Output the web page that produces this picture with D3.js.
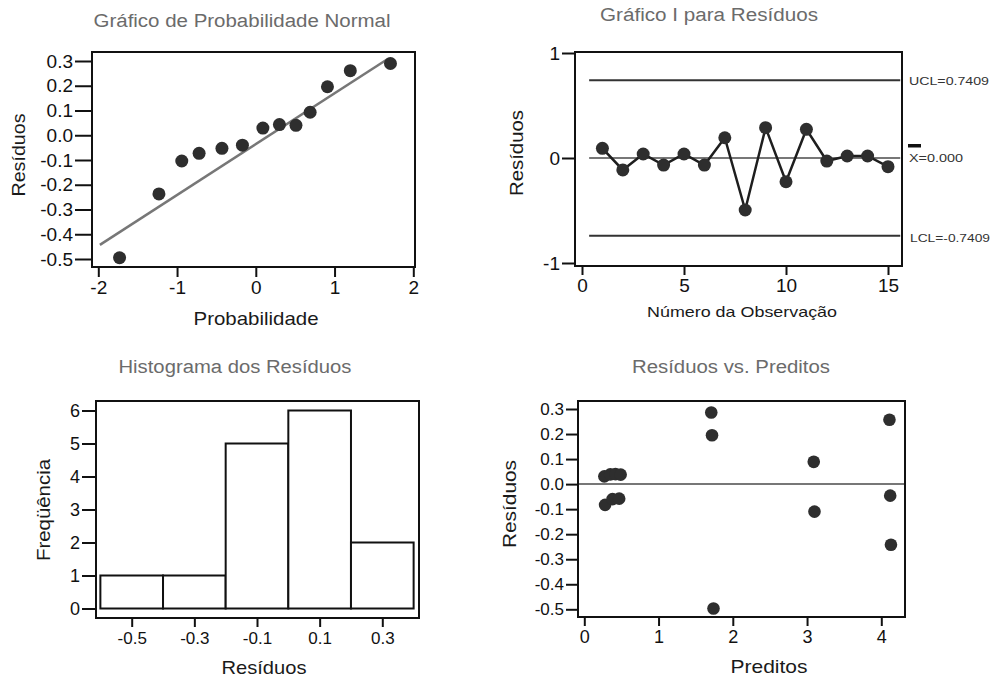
<!DOCTYPE html>
<html>
<head>
<meta charset="utf-8">
<script src="https://cdn.jsdelivr.net/npm/d3@7"></script>
<style>
  html, body { margin: 0; padding: 0; background: #fff; }
  svg { display: block; }
</style>
</head>
<body>
<script>
// ---------- DATA ----------
// Panel 1: Normal probability plot
const probScore = [-1.73, -1.23, -0.94, -0.72, -0.43, -0.17, 0.09, 0.30, 0.51, 0.69, 0.91, 1.20, 1.71];
const probResid = [-0.495, -0.237, -0.104, -0.073, -0.053, -0.040, 0.029, 0.043, 0.040, 0.093, 0.196, 0.261, 0.290];
const fitLineX = [-1.98, 1.67];
const fitLineY = [-0.443, 0.307];
const probXTicks = [-2, -1, 0, 1, 2];
const probYTicks = [-0.5, -0.4, -0.3, -0.2, -0.1, 0.0, 0.1, 0.2, 0.3];

// Panel 2: I chart
const obsNumber = [1, 2, 3, 4, 5, 6, 7, 8, 9, 10, 11, 12, 13, 14, 15];
const obsResid = [0.092, -0.114, 0.038, -0.067, 0.038, -0.067, 0.193, -0.495, 0.289, -0.226, 0.273, -0.029, 0.019, 0.019, -0.083];
const ucl = 0.7409, centerLine = 0.0, lcl = -0.7409;
const limitSpan = [0.35, 15.6];
const iXTicks = [0, 5, 10, 15];
const iYTicks = [-1, 0, 1];
const limitLabels = ["UCL=0.7409", "X=0.000", "LCL=-0.7409"];

// Panel 3: Histogram
const binEdges = [-0.6, -0.4, -0.2, 0.0, 0.2, 0.4];
const binFreq = [1, 1, 5, 6, 2];
const histXTicks = [-0.5, -0.3, -0.1, 0.1, 0.3];
const histYTicks = [0, 1, 2, 3, 4, 5, 6];

// Panel 4: Residuals vs fitted
const fitted = [0.27, 0.35, 0.42, 0.49, 0.28, 0.38, 0.47, 1.71, 1.72, 1.74, 3.09, 3.10, 4.11, 4.12, 4.13];
const fitResid = [0.031, 0.039, 0.040, 0.038, -0.083, -0.060, -0.058, 0.286, 0.195, -0.497, 0.089, -0.110, 0.257, -0.046, -0.242];
const rvfXTicks = [0, 1, 2, 3, 4];
const rvfYTicks = [-0.5, -0.4, -0.3, -0.2, -0.1, 0.0, 0.1, 0.2, 0.3];

// ---------- DRAW ----------
const W = 994, H = 680;
const FONT = "'Liberation Sans', Arial, Helvetica, sans-serif";
const svg = d3.select("body").append("svg")
  .attr("width", W).attr("height", H)
  .style("background", "#fff")
  .attr("font-family", FONT);

const DOT = "#2e2e2e";

function title(text, cx, y, len) {
  svg.append("text").attr("x", cx).attr("y", y)
    .attr("text-anchor", "middle").attr("font-size", 18)
    .attr("fill", "#6b6b6b")
    .attr("textLength", len).attr("lengthAdjust", "spacingAndGlyphs")
    .text(text);
}
function xLabel(text, cx, y, len, size) {
  svg.append("text").attr("x", cx).attr("y", y)
    .attr("text-anchor", "middle").attr("font-size", size || 19)
    .attr("fill", "#1a1a1a")
    .attr("textLength", len).attr("lengthAdjust", "spacingAndGlyphs")
    .text(text);
}
function yLabel(text, cx, cy, len) {
  svg.append("text")
    .attr("transform", `translate(${cx},${cy}) rotate(-90)`)
    .attr("text-anchor", "middle").attr("dy", "0.35em")
    .attr("font-size", 19).attr("fill", "#1a1a1a")
    .attr("textLength", len).attr("lengthAdjust", "spacingAndGlyphs")
    .text(text);
}
function frame(x0, y0, x1, y1) {
  svg.append("rect").attr("x", x0).attr("y", y0)
    .attr("width", x1 - x0).attr("height", y1 - y0)
    .attr("fill", "none").attr("stroke", "#111").attr("stroke-width", 2);
}
function styleAxis(g, size) {
  g.select(".domain").remove();
  g.selectAll(".tick line").attr("stroke", "#111").attr("stroke-width", 2);
  g.selectAll(".tick text").attr("fill", "#111").attr("font-size", size)
    .attr("font-family", FONT);
}
function yAxis(scale, x, ticks, fmt, size, tick) {
  svg.append("g").attr("transform", `translate(${x},0)`)
    .call(d3.axisLeft(scale).tickValues(ticks).tickFormat(fmt).tickSize(tick).tickPadding(2))
    .call(g => styleAxis(g, size));
}
function xAxis(scale, y, ticks, fmt, size, tick, pad) {
  svg.append("g").attr("transform", `translate(0,${y})`)
    .call(d3.axisBottom(scale).tickValues(ticks).tickFormat(fmt).tickSize(tick).tickPadding(pad))
    .call(g => styleAxis(g, size));
}
const f1 = d => d.toFixed(1);
const f0 = d => String(d);

// ===== Panel 1 =====
{
  const x = d3.scaleLinear().domain([-2, 2]).range([98.3, 413.3]);
  const y = d3.scaleLinear().domain([-0.5, 0.3]).range([259, 61]);
  title("Gráfico de Probabilidade Normal", 242, 27, 297);
  svg.append("line")
    .attr("x1", x(fitLineX[0])).attr("y1", y(fitLineY[0]))
    .attr("x2", x(fitLineX[1])).attr("y2", y(fitLineY[1]))
    .attr("stroke", "#777").attr("stroke-width", 2.5);
  svg.append("g").selectAll("circle").data(probScore).join("circle")
    .attr("cx", (d) => x(d)).attr("cy", (d, i) => y(probResid[i]))
    .attr("r", 6.5).attr("fill", DOT);
  frame(92, 52, 415, 267);
  yAxis(y, 92, probYTicks, f1, 19, 17);
  xAxis(x, 267, probXTicks, f0, 19, 10, 4);
  xLabel("Probabilidade", 256, 325, 125);
  yLabel("Resíduos", 18, 155, 83);
}

// ===== Panel 2 =====
{
  const x = d3.scaleLinear().domain([0, 15]).range([582, 888]);
  const y = d3.scaleLinear().domain([-1, 1]).range([263, 53]);
  title("Gráfico I para Resíduos", 709, 21, 218);
  [[ucl, "#333"], [lcl, "#333"], [centerLine, "#777"]].forEach(([v, c]) => {
    svg.append("line")
      .attr("x1", x(limitSpan[0])).attr("x2", x(limitSpan[1]))
      .attr("y1", y(v)).attr("y2", y(v))
      .attr("stroke", c).attr("stroke-width", 2);
  });
  svg.append("path")
    .datum(obsNumber)
    .attr("d", d3.line().x(d => x(d)).y((d, i) => y(obsResid[i])))
    .attr("fill", "none").attr("stroke", "#1e1e1e").attr("stroke-width", 2.5);
  svg.append("g").selectAll("circle").data(obsNumber).join("circle")
    .attr("cx", d => x(d)).attr("cy", (d, i) => y(obsResid[i]))
    .attr("r", 6.5).attr("fill", DOT);
  frame(575, 52, 902, 266);
  yAxis(y, 575, iYTicks, f0, 19, 13);
  xAxis(x, 266, iXTicks, f0, 19, 9, 4);
  // limit labels
  const lx = 909;
  svg.append("text").attr("x", lx).attr("y", y(ucl) + 4.5).attr("font-size", 11.5)
    .attr("fill", "#333").attr("textLength", 80).attr("lengthAdjust", "spacingAndGlyphs").text(limitLabels[0]);
  svg.append("text").attr("x", lx).attr("y", y(centerLine) + 3.5).attr("font-size", 11.5)
    .attr("fill", "#333").attr("textLength", 54).attr("lengthAdjust", "spacingAndGlyphs").text(limitLabels[1]);
  svg.append("rect").attr("x", lx - 1).attr("y", y(centerLine) - 14).attr("width", 13).attr("height", 3.5).attr("fill", "#111");
  svg.append("text").attr("x", lx + 1).attr("y", y(lcl) + 6).attr("font-size", 11.5)
    .attr("fill", "#333").attr("textLength", 80).attr("lengthAdjust", "spacingAndGlyphs").text(limitLabels[2]);
  xLabel("Número da Observação", 742, 317, 190, 15);
  yLabel("Resíduos", 516, 153, 86);
}

// ===== Panel 3 =====
{
  const x = d3.scaleLinear().domain([-0.5, 0.3]).range([131.7, 382.3]);
  const y = d3.scaleLinear().domain([0, 6]).range([608.5, 410.5]);
  title("Histograma dos Resíduos", 235, 373, 233);
  svg.append("g").selectAll("rect").data(binFreq).join("rect")
    .attr("x", (d, i) => x(binEdges[i]))
    .attr("width", (d, i) => x(binEdges[i + 1]) - x(binEdges[i]))
    .attr("y", d => y(d)).attr("height", d => y(0) - y(d))
    .attr("fill", "#fff").attr("stroke", "#111").attr("stroke-width", 2);
  frame(96, 401, 419, 618);
  yAxis(y, 96, histYTicks, f0, 18, 14);
  xAxis(x, 618, histXTicks, f1, 17, 9, 5);
  xLabel("Resíduos", 264, 674, 85);
  yLabel("Freqüência", 43, 510, 102);
}

// ===== Panel 4 =====
{
  const x = d3.scaleLinear().domain([0, 4]).range([584.3, 881.3]);
  const y = d3.scaleLinear().domain([-0.5, 0.3]).range([609.3, 409]);
  title("Resíduos vs. Preditos", 731, 373, 198);
  svg.append("line").attr("x1", 578).attr("x2", 905)
    .attr("y1", y(0)).attr("y2", y(0))
    .attr("stroke", "#777").attr("stroke-width", 2);
  svg.append("g").selectAll("circle").data(fitted).join("circle")
    .attr("cx", d => x(d)).attr("cy", (d, i) => y(fitResid[i]))
    .attr("r", 6.3).attr("fill", DOT);
  frame(578, 401, 905, 617);
  yAxis(y, 578, rvfYTicks, f1, 17, 12);
  xAxis(x, 617, rvfXTicks, f0, 18, 9, 4);
  xLabel("Preditos", 769, 673, 77);
  yLabel("Resíduos", 509, 504, 88);
}
</script>
</body>
</html>
